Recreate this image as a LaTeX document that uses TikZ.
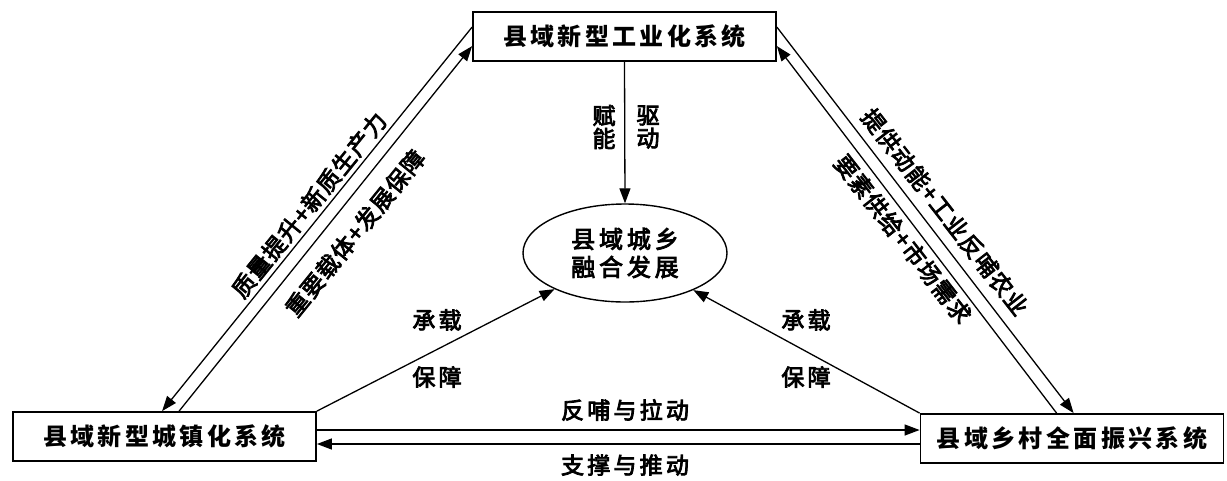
\documentclass[tikz,border=0pt]{standalone}
\usepackage{fontspec}
\newfontfamily\cjk{Noto Sans CJK SC}[FakeBold=3.5]
\newfontfamily\cjkb{Noto Sans CJK SC}
\usetikzlibrary{arrows.meta,shapes.geometric}
\begin{document}
\begin{tikzpicture}[x=1pt,y=-1pt,
  box/.style={draw,line width=1.8pt,minimum width=303pt,minimum height=49pt,inner sep=0pt,
    font=\cjkb\bfseries\fontsize{24}{24}\selectfont\addfontfeature{LetterSpace=14}},
  ell/.style={draw,ellipse,line width=1.4pt,minimum width=204pt,minimum height=98pt,inner sep=0pt,
    align=center,font=\cjk\fontsize{24}{28}\selectfont\addfontfeature{LetterSpace=16}},
  arr/.style={line width=1.3pt,-{Triangle[length=15pt,width=11pt]}},
  lab/.style={inner sep=0pt,align=center,font=\cjk\fontsize{23}{23}\selectfont\addfontfeature{LetterSpace=14}},
  dlab/.style={inner sep=0pt,font=\cjk\fontsize{23}{23}\selectfont\addfontfeature{LetterSpace=5}},
]
\useasboundingbox (0,0) rectangle (1227,480);
\node[box] (top) at (624.5,36.5) {县域新型工业化系统};
\node[box] (left) at (164.5,436.5) {县域新型城镇化系统};
\node[box] (right) at (1072,438.5) {县域乡村全面振兴系统};
\node[ell] (ell) at (625,253) {县域城乡\\融合发展};
\coordinate (ya) at (0,430);
\coordinate (yb) at (0,444);
% vertical
\draw[arr] (top.south) -- (ell.north);
\node[lab] (l1) at (604,127) {赋\\能};
\node[lab] (l2) at (648,127) {驱\\动};
% left pair
\draw[arr] ([yshift=-16pt]top.north west) -- ([xshift=150pt]left.north west);
\draw[arr] ([xshift=167pt]left.north west) -- ([yshift=-35pt]top.north west);
\node[dlab,rotate=51] (l3) at (309,205) {质量提升+新质生产力};
\node[dlab,rotate=51] (l4) at (355,233) {重要载体+发展保障};
% right pair
\draw[arr] ([yshift=-16pt]top.north east) -- ([xshift=154pt]right.north west);
\draw[arr] ([xshift=137pt]right.north west) -- ([yshift=-35pt]top.north east);
\node[dlab,rotate=-52] (l5) at (945,212) {提供动能+工业反哺农业};
\node[dlab,rotate=-52] (l6) at (903,239) {要素供给+市场需求};
% to ellipse
\draw[arr] (left.north east) -- (ell);
\draw[arr] (right.north west) -- (ell);
\node[lab] (l7) at (437,320) {承载};
\node[lab] (l8) at (437,377) {保障};
\node[lab] (l9) at (806,320) {承载};
\node[lab] (l10) at (806,377) {保障};
% horizontal
\draw[arr] (left.east |- ya) -- (right.west |- ya);
\draw[arr] (right.west |- yb) -- (left.east |- yb);
\node[lab] (l11) at (625,410) {反哺与拉动};
\node[lab] (l12) at (625,465) {支撑与推动};
\end{tikzpicture}
\end{document}
